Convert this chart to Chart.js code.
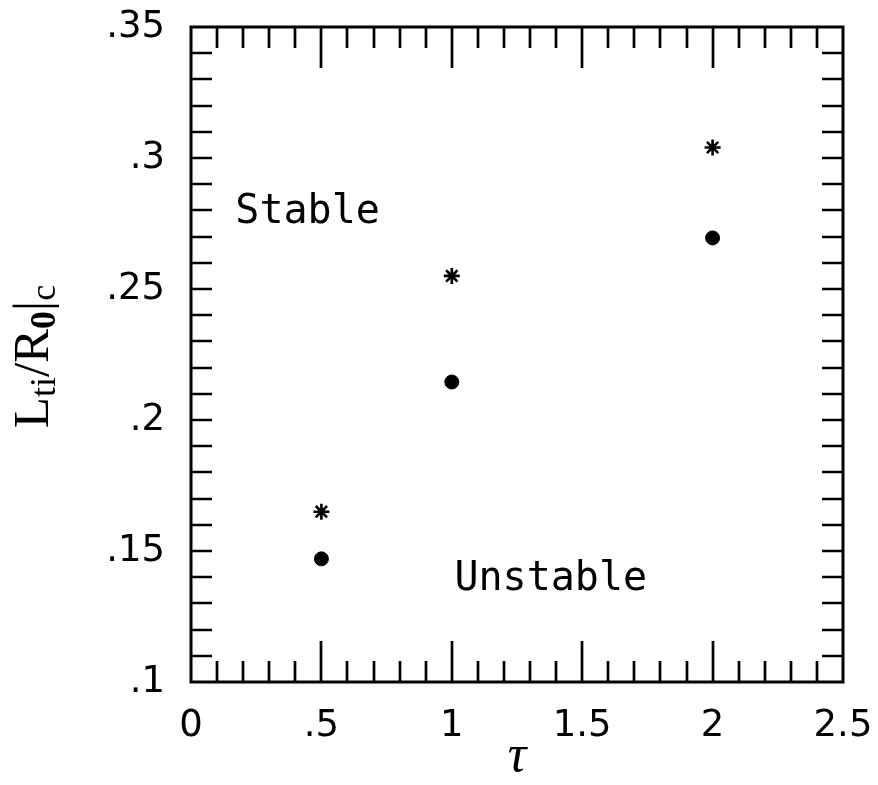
<!DOCTYPE html>
<html>
<head>
<meta charset="utf-8">
<title>Stability boundary vs tau</title>
<script src="https://cdn.jsdelivr.net/npm/chart.js@4.4.1/dist/chart.umd.min.js"></script>
<style>
  html, body { margin: 0; padding: 0; background: #fff; }
  canvas { display: block; }
</style>
</head>
<body>
<canvas id="plot" width="878" height="785"></canvas>
<script>
// tau values and the two measured boundaries
const tauValues = [0.5, 1, 2];
const starValues = [0.165, 0.255, 0.304];
const circleValues = [0.147, 0.2145, 0.2695];

// labelled ticks
const xTickValues = [0, 0.5, 1, 1.5, 2, 2.5];
const xTickLabels = ['0', '.5', '1', '1.5', '2', '2.5'];
const yTickValues = [0.1, 0.15, 0.2, 0.25, 0.3, 0.35];
const yTickLabels = ['.1', '.15', '.2', '.25', '.3', '.35'];

// region names
const regionNames = ['Stable', 'Unstable'];

// where the region names sit, in data units (left edge, vertical middle)
const regionAnchors = [[0.17, 0.279], [1.01, 0.139]];

const labelFor = (values, labels) => v => {
    const i = values.findIndex(t => Math.abs(t - v) < 1e-6);
    return i < 0 ? '' : labels[i];
};

const tickFont = { family: 'DejaVu Sans', size: 37, lineHeight: 1 };

// frame, inward ticks on all four sides, region names and y title
const framePlugin = {
    id: 'frame',
    afterDraw(chart) {
        const { ctx, chartArea: a, scales: { x, y } } = chart;
        ctx.save();
        ctx.strokeStyle = '#000';
        ctx.lineCap = 'butt';

        ctx.lineWidth = 2.7;
        ctx.beginPath();
        x.ticks.forEach(t => {
            if (t.value <= x.min + 1e-6 || t.value >= x.max - 1e-6) return;
            const px = Math.round(x.getPixelForValue(t.value));
            const major = Math.abs(t.value * 2 - Math.round(t.value * 2)) < 1e-6;
            const len = major ? 41 : 21;
            ctx.moveTo(px, a.bottom);
            ctx.lineTo(px, a.bottom - len);
            ctx.moveTo(px, a.top);
            ctx.lineTo(px, a.top + len);
        });
        y.ticks.forEach(t => {
            if (t.value <= y.min + 1e-6 || t.value >= y.max - 1e-6) return;
            const py = Math.round(y.getPixelForValue(t.value));
            ctx.moveTo(a.left, py);
            ctx.lineTo(a.left + 21, py);
            ctx.moveTo(a.right, py);
            ctx.lineTo(a.right - 21, py);
        });
        ctx.stroke();

        ctx.lineWidth = 3;
        ctx.strokeRect(a.left, a.top, a.right - a.left, a.bottom - a.top);

        // region names
        ctx.fillStyle = '#000';
        ctx.font = '40px "DejaVu Sans Mono"';
        ctx.textBaseline = 'middle';
        ctx.textAlign = 'left';
        regionNames.forEach((name, i) => {
            const [vx, vy] = regionAnchors[i];
            ctx.fillText(name, x.getPixelForValue(vx), y.getPixelForValue(vy));
        });

        // y title: L_ti / R_0 |_c
        const parts = [
            ['L', false], ['ti', true], ['/', false], ['R', false],
            ['0', true, true], ['|', false], ['c', true]
        ];
        const big = '51px "Liberation Serif"';
        const small = '36px "Liberation Serif"';
        const smallBold = 'bold 36px "Liberation Serif"';
        const fontOf = p => p[1] ? (p[2] ? smallBold : small) : big;
        let total = 0;
        parts.forEach(p => {
            ctx.font = fontOf(p);
            total += ctx.measureText(p[0]).width;
        });
        ctx.translate(48, (a.top + a.bottom) / 2 + 2);
        ctx.rotate(-Math.PI / 2);
        ctx.textBaseline = 'alphabetic';
        let cx = -total / 2;
        parts.forEach(p => {
            ctx.font = fontOf(p);
            ctx.fillText(p[0], cx, p[1] ? 7 : 0);
            cx += ctx.measureText(p[0]).width;
        });
        ctx.restore();
    }
};

const ctx = document.getElementById('plot').getContext('2d');

new Chart(ctx, {
    type: 'scatter',
    data: {
        datasets: [
            {
                label: 'upper',
                data: tauValues.map((t, i) => ({ x: t, y: starValues[i] })),
                pointStyle: 'star',
                pointRadius: 8,
                borderColor: '#000',
                backgroundColor: '#000',
                borderWidth: 2.6
            },
            {
                label: 'lower',
                data: tauValues.map((t, i) => ({ x: t, y: circleValues[i] })),
                pointStyle: 'circle',
                pointRadius: 7,
                borderColor: '#000',
                backgroundColor: '#000',
                borderWidth: 1
            }
        ]
    },
    options: {
        responsive: false,
        animation: false,
        layout: { padding: { top: 27, right: 35, left: 0, bottom: 0 } },
        plugins: {
            legend: { display: false },
            tooltip: { enabled: false }
        },
        scales: {
            x: {
                type: 'linear',
                min: 0,
                max: 2.5,
                grid: { display: false, drawTicks: false },
                border: { display: false },
                ticks: {
                    stepSize: 0.1,
                    autoSkip: false,
                    maxRotation: 0,
                    maxTicksLimit: 1000,
                    padding: 26,
                    color: '#000',
                    font: tickFont,
                    callback: labelFor(xTickValues, xTickLabels)
                },
                title: {
                    display: true,
                    text: 'τ',
                    color: '#000',
                    font: { family: 'Liberation Serif', style: 'italic', size: 52, lineHeight: 1 },
                    padding: { top: 0, bottom: 2 }
                },
                // fixed axis band; label overhang is allowed past the frame
                afterFit: s => {
                    s.height = 103;
                    s.paddingLeft = 0;
                    s.paddingRight = 0;
                }
            },
            y: {
                type: 'linear',
                min: 0.1,
                max: 0.35,
                grid: { display: false, drawTicks: false },
                border: { display: false },
                ticks: {
                    stepSize: 0.01,
                    autoSkip: false,
                    maxTicksLimit: 1000,
                    padding: 26,
                    color: '#000',
                    font: tickFont,
                    callback: labelFor(yTickValues, yTickLabels)
                },
                afterFit: s => {
                    s.width = 191;
                    s.paddingTop = 0;
                    s.paddingBottom = 0;
                }
            }
        }
    },
    plugins: [framePlugin]
});
</script>
</body>
</html>
